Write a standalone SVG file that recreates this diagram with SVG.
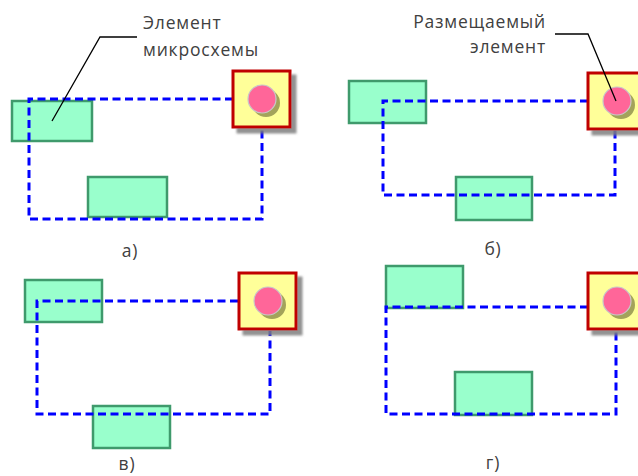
<svg xmlns="http://www.w3.org/2000/svg" width="638" height="476" viewBox="0 0 638 476">
  <defs>
    <filter id="shadow" x="-20%" y="-20%" width="150%" height="150%">
      <feDropShadow dx="5" dy="5" stdDeviation="1.2" flood-color="#7f7f7f" flood-opacity="0.85"/>
    </filter>
    <!-- placed element: yellow pad with pin -->
    <g id="placed">
      <rect x="0" y="0" width="57" height="56" fill="#ffff99" stroke="#c00000" stroke-width="3" filter="url(#shadow)"/>
      <circle cx="33" cy="32" r="14" fill="#a3a35a"/>
      <circle cx="29" cy="28" r="14" fill="#ff6699" stroke="#c8c8c8" stroke-width="1.2"/>
    </g>
  </defs>
  <style>
    .chip { fill: #99ffcc; stroke: #3f9a6c; stroke-width: 2.5; }
    .net { fill: none; stroke: #0000ff; stroke-width: 3; stroke-dasharray: 8 4.5; }
    .lead { fill: none; stroke: #000; stroke-width: 1.3; }
    .txt { font-family: "Open Sans", "Noto Sans", sans-serif; font-size: 17.5px; letter-spacing: 0.8px; fill: #404040; }
  </style>

  <!-- panel а -->
  <g id="panel-a">
    <g id="a-chip1"><rect class="chip" x="12" y="101" width="80" height="40"/></g>
    <g id="a-chip2"><rect class="chip" x="88" y="177" width="79" height="40"/></g>
    <g id="a-net"><path class="net" d="M233 99 H29 V219 H262 V128"/></g>
    <g id="a-placed"><use href="#placed" x="233" y="71"/></g>
    <text class="txt" x="130" y="257" text-anchor="middle">а)</text>
  </g>

  <!-- panel б -->
  <g id="panel-b">
    <g id="b-chip1"><rect class="chip" x="349" y="81" width="77" height="42"/></g>
    <g id="b-chip2"><rect class="chip" x="456" y="177" width="76" height="43"/></g>
    <g id="b-net"><path class="net" d="M588 101 H383 V195 H615 V130"/></g>
    <g id="b-placed"><use href="#placed" x="588" y="73"/></g>
    <text class="txt" x="493" y="255" text-anchor="middle">б)</text>
  </g>

  <!-- panel в -->
  <g id="panel-v">
    <g id="v-chip1"><rect class="chip" x="25" y="280" width="77" height="42"/></g>
    <g id="v-chip2"><rect class="chip" x="93" y="406" width="77" height="42"/></g>
    <g id="v-net"><path class="net" d="M238 301 H37 V414 H270 V331"/></g>
    <g id="v-placed"><use href="#placed" x="239" y="273"/></g>
    <text class="txt" x="127" y="470" text-anchor="middle">в)</text>
  </g>

  <!-- panel г -->
  <g id="panel-g">
    <g id="g-chip1"><rect class="chip" x="386" y="266" width="77" height="42"/></g>
    <g id="g-chip2"><rect class="chip" x="455" y="372" width="77" height="43"/></g>
    <g id="g-net"><path class="net" d="M588 307 H386 V414 H616 V331"/></g>
    <g id="g-placed"><use href="#placed" x="588" y="273"/></g>
    <text class="txt" x="493" y="469" text-anchor="middle">г)</text>
  </g>

  <!-- callouts -->
  <g id="connectors">
    <path class="lead" d="M137 37 H100 L52 121"/>
    <path class="lead" d="M555 34 H588 L616 101"/>
  </g>
  <g id="callout-chip">
    <text class="txt" x="143" y="29">Элемент</text>
    <text class="txt" x="143" y="56">микросхемы</text>
  </g>
  <g id="callout-placed">
    <text class="txt" x="546" y="28" text-anchor="end">Размещаемый</text>
    <text class="txt" x="546" y="53" text-anchor="end">элемент</text>
  </g>
</svg>
